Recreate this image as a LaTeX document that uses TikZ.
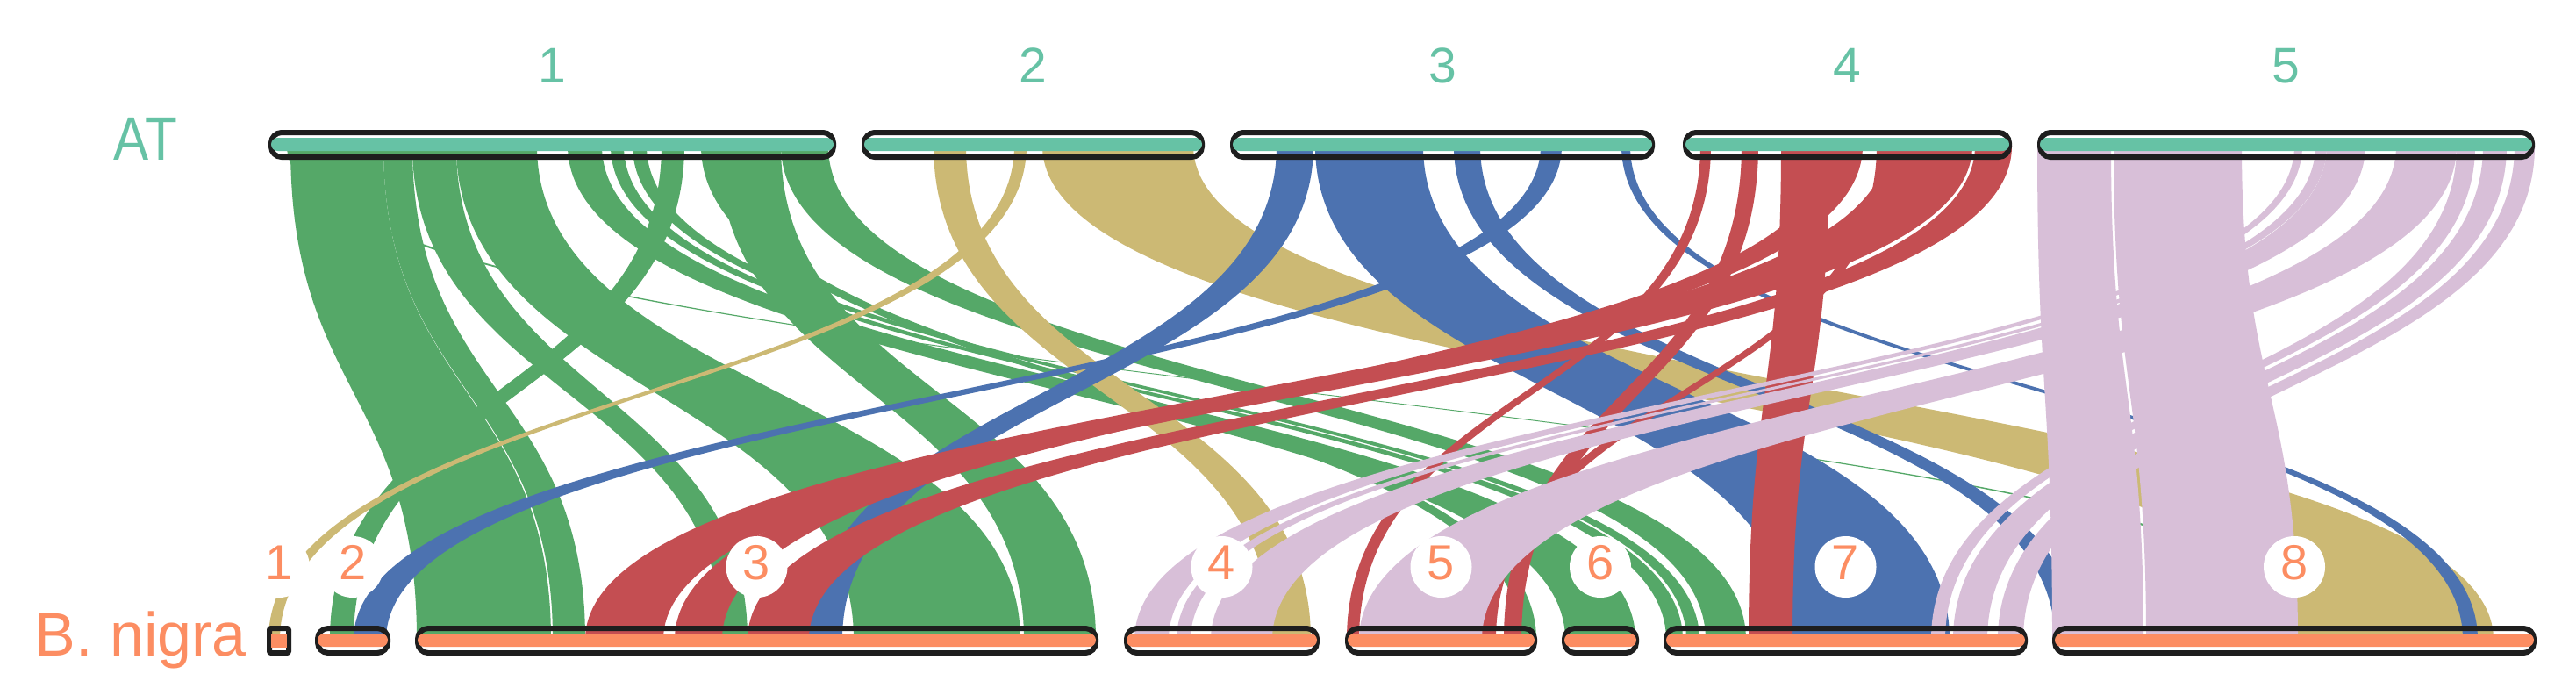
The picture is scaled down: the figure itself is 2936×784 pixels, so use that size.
\documentclass[tikz,border=0pt]{standalone}
\usepackage{fontspec}
\setmainfont{Liberation Sans}
\usepackage{graphicx}
\definecolor{cg}{HTML}{55A868}
\definecolor{ct}{HTML}{CCB974}
\definecolor{cb}{HTML}{4C72B0}
\definecolor{cr}{HTML}{C44E52}
\definecolor{cl}{HTML}{D8BFD8}
\definecolor{topc}{HTML}{66C2A5}
\definecolor{botc}{HTML}{FC8D62}
\definecolor{outl}{HTML}{1E1E1E}
% ribbon: colour, top left, top right, bottom left, bottom right
\newcommand{\synrib}[5]{%
  \fill[#1] (#2,166) .. controls (#2,447.5) and (#4,447.5) .. (#4,729)
     -- (#5,729) .. controls (#5,447.5) and (#3,447.5) .. (#3,166) -- cycle;}
% chromosome bar: x1, x2, top y, colour
\newcommand{\synbar}[4]{%
  \draw[barline] ({#1+3},{#3+3}) rectangle ({#2-3},{#3+31});
  \fill[#4, rounded corners=7.5pt] ({#1+3},{#3+9}) rectangle ({#2-3},{#3+24});}
\tikzset{
  barline/.style={draw=outl, line width=6pt, rounded corners=12pt},
  toplab/.style={anchor=base, text=topc, inner sep=0pt, font=\fontsize{57}{60}\selectfont},
  botlab/.style={anchor=base, text=botc, inner sep=0pt, font=\fontsize{56}{60}\selectfont},
  labcirc/.style={fill=white}
}
\begin{document}
\begin{tikzpicture}[x=1pt,y=-1pt]
\fill[white] (0,0) rectangle (2936,784);
\useasboundingbox (0,0) rectangle (2936,784);
% ---------- green ribbons (AT 1)
\synrib{cg}{327}{334}{2648}{2656}
\synrib{cg}{331}{437}{475}{628}
\synrib{cg}{437}{470}{630}{667}
\synrib{cg}{470}{520}{823}{852}
\synrib{cg}{520}{612}{973}{1163}
\synrib{cg}{647}{686}{1784}{1864}
\synrib{cg}{696}{711}{1899}{1918}
\synrib{cg}{721}{737}{1922}{1937}
\synrib{cg}{754}{780}{376}{403}
\synrib{cg}{799}{819}{1734}{1751}
\synrib{cg}{819}{890}{1167}{1249}
\synrib{cg}{890}{944}{1944}{1990}
% ---------- tan ribbons (AT 2)
\synrib{ct}{1064}{1101}{1450}{1494}
\synrib{ct}{1156}{1170}{306}{319}
\synrib{ct}{1188}{1360}{2619}{2842}
% ---------- blue ribbons (AT 3)
\synrib{cb}{1455}{1497}{922}{960}
\synrib{cb}{1499}{1622}{2043}{2222}
\synrib{cb}{1657}{1687}{2342}{2368}
\synrib{cb}{1756}{1780}{403}{440}
\synrib{cb}{1848}{1858}{2807}{2824}
% ---------- red ribbons (AT 4)
\synrib{cr}{1938}{1950}{1535}{1549}
\synrib{cr}{1985}{2004}{1714}{1734}
\synrib{cr}{2030}{2085}{1993}{2043}
\synrib{cr}{2085}{2123}{769}{823}
\synrib{cr}{2139}{2150}{1689}{1705}
\synrib{cr}{2150}{2248}{667}{756}
\synrib{cr}{2251}{2293}{852}{922}
% ---------- lilac ribbons (AT 5)
\synrib{cl}{2322}{2406}{2339}{2443}
\synrib{cl}{2409}{2555}{2446}{2619}
\synrib{cl}{2615}{2624}{1293}{1332}
\synrib{cl}{2639}{2652}{1341}{1357}
\synrib{cl}{2652}{2696}{1380}{1450}
\synrib{cl}{2731}{2800}{1549}{1689}
\synrib{cl}{2800}{2821}{2201}{2217}
\synrib{cl}{2830}{2857}{2226}{2265}
\synrib{cl}{2866}{2889}{2277}{2306}
% ---------- AT chromosomes
\synbar{306}{953}{148}{topc}
\synbar{982}{1373}{148}{topc}
\synbar{1402}{1886}{148}{topc}
\synbar{1918}{2293}{148}{topc}
\synbar{2322}{2889}{148}{topc}
% ---------- B. nigra chromosomes
\draw[draw=outl, line width=6pt, rounded corners=2pt] (307,716) rectangle (329,744);
\fill[botc] (309,723) rectangle (327,738);
\synbar{359}{445}{713}{botc}
\synbar{473}{1252}{713}{botc}
\synbar{1281}{1504}{713}{botc}
\synbar{1533}{1752}{713}{botc}
\synbar{1780}{1868}{713}{botc}
\synbar{1896}{2311}{713}{botc}
\synbar{2339}{2891}{713}{botc}
% ---------- genome labels
\node[anchor=base east, text=topc, inner sep=0pt, font=\fontsize{70}{72}\selectfont] (atlab) at (202,182) {\scalebox{0.86}[1]{AT}};
\node[anchor=base east, text=botc, inner sep=0pt, font=\fontsize{70}{72}\selectfont] (bnlab) at (281,747) {B. nigra};
% ---------- AT chromosome numbers
\node[toplab] (a1) at (629.5,94) {1};
\node[toplab] (a2) at (1177.5,94) {2};
\node[toplab] (a3) at (1644,94) {3};
\node[toplab] (a4) at (2105.5,94) {4};
\node[toplab] (a5) at (2605.5,94) {5};
% ---------- B. nigra chromosome numbers
\foreach \cx/\lab in {318/1, 402/2, 862.5/3, 1392.5/4, 1642.5/5, 1824/6, 2103.5/7, 2615/8}{
  \fill[labcirc] (\cx,646) circle (35);
  \node[botlab] (b\lab) at (\cx,660) {\lab};
}
\end{tikzpicture}
\end{document}
